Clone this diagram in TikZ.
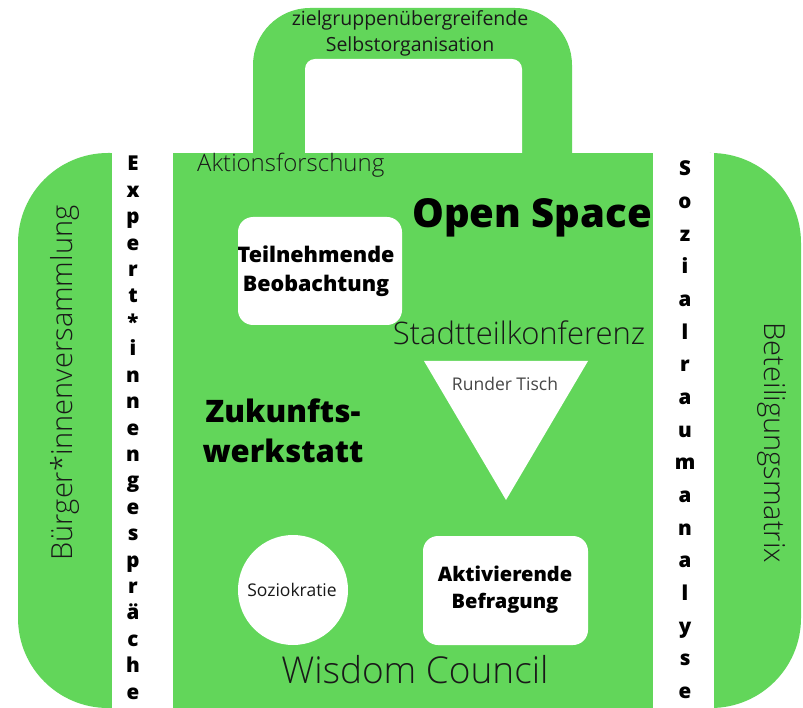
\documentclass[tikz,border=0pt]{standalone}
\usepackage{fontspec}
\setmainfont{Open Sans}
\IfFontExistsTF{Open Sans Light}{\newfontfamily\lightfont{Open Sans Light}}{\newfontfamily\lightfont{Open Sans}}
\IfFontExistsTF{Open Sans ExtraBold}{\newfontfamily\heavyfont{Open Sans ExtraBold}}{%
  \IfFontExistsTF{Open Sans Extrabold}{\newfontfamily\heavyfont{Open Sans Extrabold}}{%
    \IfFontExistsTF{OpenSans-ExtraBold}{\newfontfamily\heavyfont{OpenSans-ExtraBold}}{%
      \newfontfamily\heavyfont{Open Sans Bold}[FakeBold=1.4]}}}
\definecolor{casegreen}{RGB}{98,214,90}
\definecolor{inktext}{RGB}{25,25,25}
\definecolor{softgray}{RGB}{70,70,70}
\tikzset{
  thin label/.style={font=\lightfont\fontsize{#1}{#1}\selectfont, text=inktext, inner sep=0pt},
  heavy label/.style={font=\heavyfont\fontsize{#1}{#1}\selectfont, text=black, inner sep=0pt},
  whitebox/.style={fill=white, rounded corners=15pt},
  strip letter/.style={font=\heavyfont\fontsize{20.5}{20.5}\selectfont, anchor=base, inner sep=0pt}
}
\begin{document}
\begin{tikzpicture}[x=1pt,y=-1pt]
\useasboundingbox (0,0) rectangle (803,708);
\fill[white] (0,0) rectangle (803,708);
% side wings
\fill[casegreen, rounded corners=90pt] (18,153) rectangle (200,708);
\fill[casegreen, rounded corners=90pt] (620,153) rectangle (801,708);
% white strips between wings and body
\fill[white] (112,153) rectangle (173,708);
\fill[white] (653,153) rectangle (714,708);
% handle
\fill[casegreen, rounded corners=57pt] (253,8) rectangle (572,220);
\fill[white, rounded corners=10pt] (305,59) rectangle (522,220);
% main body
\fill[casegreen] (173,153) rectangle (653,708);

% handle label
\node[font=\fontsize{19.5}{26}\selectfont, text=inktext, align=center, inner sep=0pt] (ziel) at (410,33)
  {zielgruppenübergreifende\\Selbstorganisation};

\node[thin label=24, anchor=west] (aktion) at (197,165) {Aktionsforschung};
\node[heavy label=40] (open) at (532,218) {Open Space};

% Teilnehmende Beobachtung
\fill[whitebox] (238,217) rectangle (402,325);
\node[font=\heavyfont\fontsize{21.5}{28.5}\selectfont, align=center, inner sep=0pt] (teil) at (316,271)
  {Teilnehmende\\Beobachtung};

\node[thin label=31] (stadt) at (519,333) {Stadtteilkonferenz};

% Runder Tisch
\fill[white] (424,361) -- (588,361) -- (506,500) -- cycle;
\node[font=\fontsize{17.5}{17.5}\selectfont, text=softgray, inner sep=0pt] (tisch) at (505,384) {Runder Tisch};

\node[font=\heavyfont\fontsize{31}{40}\selectfont, align=center, inner sep=0pt] (zukunft) at (283,431)
  {Zukunfts-\\werkstatt};

% Soziokratie
\fill[white] (293,590) circle (55pt);
\node[font=\fontsize{17.5}{17.5}\selectfont, text=inktext, inner sep=0pt] (sozio) at (292,590) {Soziokratie};

% Aktivierende Befragung
\fill[whitebox] (423,536) rectangle (588,645);
\node[font=\heavyfont\fontsize{20}{27}\selectfont, align=center, inner sep=0pt] (befr) at (505,590)
  {Aktivierende\\Befragung};

\node[thin label=37] (wisdom) at (415,670) {Wisdom Council};

% rotated wing labels
\node[thin label=29, rotate=90] (buerger) at (65,383) {Bürger*innenversammlung};
\node[thin label=29, rotate=-90] (matrix) at (772,443) {Beteiligungsmatrix};

% letters in the strips
\foreach \ch [count=\i from 0] in {E,x,p,e,r,t,*,i,n,n,e,n,g,e,s,p,r,ä,c,h,e}
  \node[strip letter] (left\i) at (133,171+26.4*\i) {\ch};
\foreach \ch [count=\i from 0] in {S,o,z,i,a,l,r,a,u,m,a,n,a,l,y,s,e}
  \node[strip letter] (right\i) at (685,176+32.65*\i) {\ch};
\end{tikzpicture}
\end{document}
